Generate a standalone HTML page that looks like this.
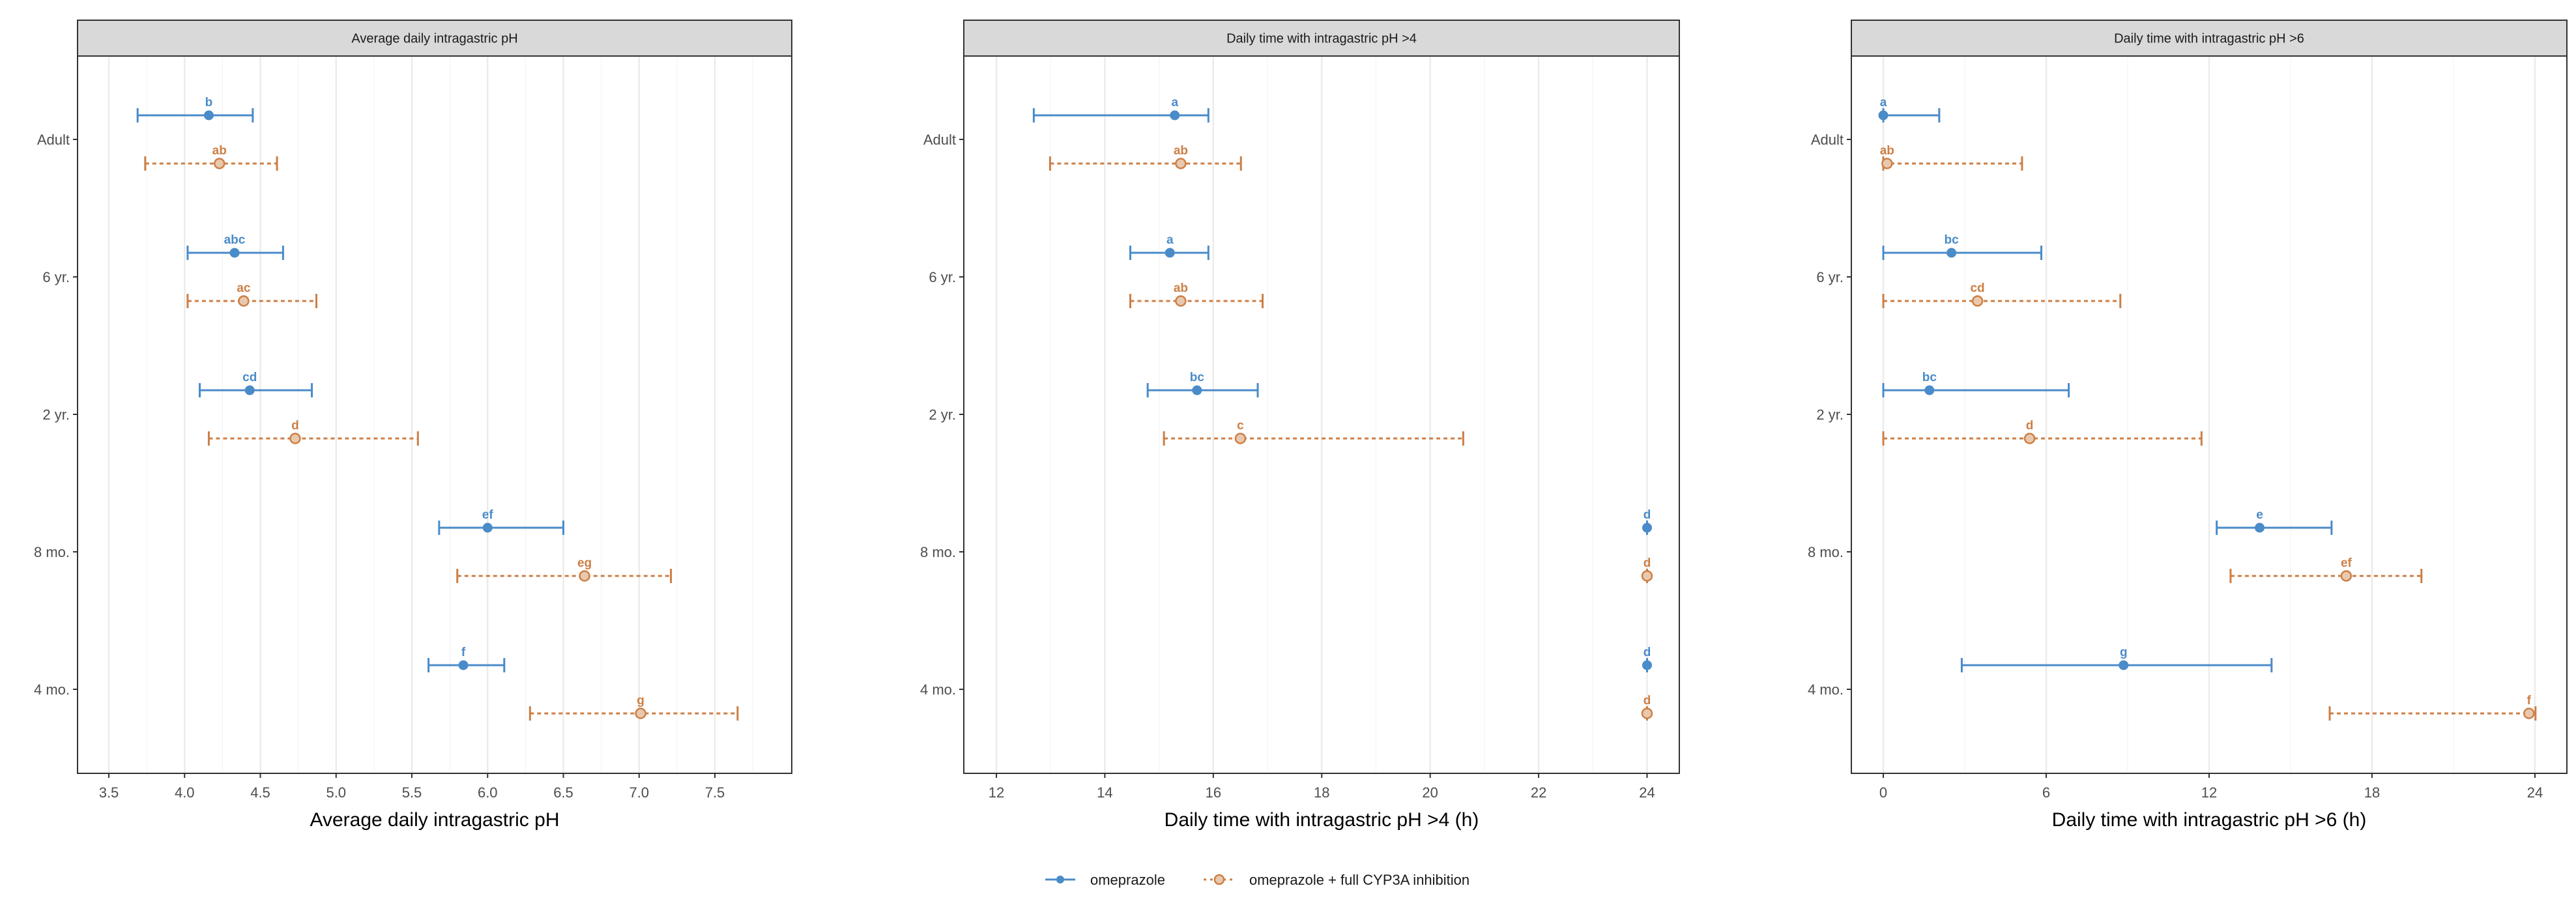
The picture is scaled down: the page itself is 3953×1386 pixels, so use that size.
<!DOCTYPE html>
<html><head><meta charset="utf-8">
<style>
html,body{margin:0;padding:0;background:#fff;}
svg{display:block;font-family:"Liberation Sans",Arial,sans-serif;}
</style></head>
<body>
<svg id="chart" width="3953" height="1386" viewBox="0 0 3953 1386" xmlns="http://www.w3.org/2000/svg">
<rect x="0" y="0" width="3953" height="1386" fill="#fff"/>
<g>
  <g>
    <line x1="1604" y1="1350" x2="1650" y2="1350" stroke="#4a8bc9" stroke-width="3"/>
    <circle cx="1627" cy="1350" r="6" fill="#4a8bc9"/>
    <text x="1673" y="1358" font-size="22" fill="#1a1a1a">omeprazole</text>
  </g>
  <g>
    <line x1="1847" y1="1350" x2="1895" y2="1350" stroke="#cc7f45" stroke-width="3" stroke-dasharray="4,6"/>
    <circle cx="1871" cy="1350" r="7" fill="#e9c9ae" stroke="#cc7f45" stroke-width="2.5"/>
    <text x="1917" y="1358" font-size="22" fill="#1a1a1a">omeprazole + full CYP3A inhibition</text>
  </g>
</g>
</svg>
<script>
const categories = ["Adult","6 yr.","2 yr.","8 mo.","4 mo."];
// panel 1: Average daily intragastric pH
const p1BlueMean = [4.16,4.33,4.43,6.00,5.84];
const p1BlueLo   = [3.69,4.02,4.10,5.68,5.61];
const p1BlueHi   = [4.45,4.65,4.84,6.50,6.11];
const p1BlueLab  = ["b","abc","cd","ef","f"];
const p1OrMean = [4.23,4.39,4.73,6.64,7.01];
const p1OrLo   = [3.74,4.02,4.16,5.80,6.28];
const p1OrHi   = [4.61,4.87,5.54,7.21,7.65];
const p1OrLab  = ["ab","ac","d","eg","g"];
const p1Ticks = [3.5,4.0,4.5,5.0,5.5,6.0,6.5,7.0,7.5];
// panel 2: Daily time with pH > 4
const p2BlueMean = [15.29,15.20,15.70,24,24];
const p2BlueLo   = [12.69,14.47,14.79,24,24];
const p2BlueHi   = [15.91,15.91,16.82,24,24];
const p2BlueLab  = ["a","a","bc","d","d"];
const p2OrMean = [15.40,15.40,16.50,24,24];
const p2OrLo   = [12.99,14.47,15.09,24,24];
const p2OrHi   = [16.51,16.91,20.61,24,24];
const p2OrLab  = ["ab","ab","c","d","d"];
const p2Ticks = [12,14,16,18,20,22,24];
// panel 3: Daily time with pH > 6
const p3BlueMean = [0,2.51,1.70,13.86,8.85];
const p3BlueLo   = [0,0,0,12.28,2.89];
const p3BlueHi   = [2.06,5.82,6.83,16.51,14.30];
const p3BlueLab  = ["a","bc","bc","e","g"];
const p3OrMean = [0.14,3.47,5.39,17.05,23.78];
const p3OrLo   = [0,0,0,12.79,16.44];
const p3OrHi   = [5.11,8.73,11.72,19.82,24.02];
const p3OrLab  = ["ab","cd","d","ef","f"];
const p3Ticks = [0,6,12,18,24];

const NS="http://www.w3.org/2000/svg";
const svgEl=document.getElementById('chart');
const BLUE="#4a8bc9", ORANGE="#cc7f45";
function mk(tag,attrs,parent){const e=document.createElementNS(NS,tag);for(const k in attrs)e.setAttribute(k,attrs[k]);(parent||svgEl).appendChild(e);return e;}

const panels=[
 {title:"Average daily intragastric pH",axis:"Average daily intragastric pH",left:119,right:1215,v0:3.5,px0:167,v1:7.5,px1:1097,ticks:p1Ticks,minorStep:0.25,dec:1,
  bm:p1BlueMean,bl:p1BlueLo,bh:p1BlueHi,blab:p1BlueLab,om:p1OrMean,ol:p1OrLo,oh:p1OrHi,olab:p1OrLab,key:"ph"},
 {title:"Daily time with intragastric pH >4",axis:"Daily time with intragastric pH >4 (h)",left:1479,right:2577,v0:12,px0:1529,v1:24,px1:2527.5,ticks:p2Ticks,minorStep:1,dec:0,
  bm:p2BlueMean,bl:p2BlueLo,bh:p2BlueHi,blab:p2BlueLab,om:p2OrMean,ol:p2OrLo,oh:p2OrHi,olab:p2OrLab,key:"ph4"},
 {title:"Daily time with intragastric pH >6",axis:"Daily time with intragastric pH >6 (h)",left:2841,right:3939,v0:0,px0:2890,v1:24,px1:3890,ticks:p3Ticks,minorStep:3,dec:0,
  bm:p3BlueMean,bl:p3BlueLo,bh:p3BlueHi,blab:p3BlueLab,om:p3OrMean,ol:p3OrLo,oh:p3OrHi,olab:p3OrLab,key:"ph6"}
];
const stripTop=31, panelTop=86, panelBottom=1187;
const catY0=214, catStep=211, off=37;
function yScale(i){return catY0+i*catStep;}

panels.forEach(p=>{
  const g=mk('g',{});
  
  
  const xs=v=>p.px0+(v-p.v0)*(p.px1-p.px0)/(p.v1-p.v0);
  const vmin=p.v0+(p.left-p.px0)*(p.v1-p.v0)/(p.px1-p.px0);
  const vmax=p.v0+(p.right-p.px0)*(p.v1-p.v0)/(p.px1-p.px0);
  const s=mk('rect',{x:p.left,y:stripTop,width:p.right-p.left,height:panelTop-stripTop,fill:"#d9d9d9",stroke:"#333","stroke-width":2},g);
  
  
  const st=mk('text',{x:(p.left+p.right)/2,y:(stripTop+panelTop)/2+7,"text-anchor":"middle","font-size":20,fill:"#1a1a1a"},g);
  st.textContent=p.title;
  
  
  let start=Math.ceil(vmin/p.minorStep)*p.minorStep;
  for(let v=start;v<=vmax+1e-9;v+=p.minorStep){
    const major=p.ticks.some(t=>Math.abs(t-v)<1e-6);
    const gl=mk('line',{x1:xs(v),x2:xs(v),y1:panelTop,y2:panelBottom,stroke:major?"#ebebeb":"#f4f4f4","stroke-width":major?2.4:1.2},g);
    
    
  }
  const b=mk('rect',{x:p.left,y:panelTop,width:p.right-p.left,height:panelBottom-panelTop,fill:"none",stroke:"#333","stroke-width":2},g);
  
  
  p.ticks.forEach(t=>{
    const x=xs(t);
    const tk=mk('line',{x1:x,x2:x,y1:panelBottom,y2:panelBottom+7,stroke:"#333","stroke-width":2},g);
    
    
    const tl=mk('text',{x:x,y:panelBottom+37,"text-anchor":"middle","font-size":22,fill:"#4d4d4d"},g);
    tl.textContent=t.toFixed(p.dec);
    
    
  });
  const at=mk('text',{x:(p.left+p.right)/2,y:1268,"text-anchor":"middle","font-size":30,fill:"#000"},g);
  at.textContent=p.axis;
  
  
  categories.forEach((c,i)=>{
    const y=yScale(i);
    const tk=mk('line',{x1:p.left-7,x2:p.left,y1:y,y2:y,stroke:"#333","stroke-width":2},g);
    
    
    const tl=mk('text',{x:p.left-12,y:y+8,"text-anchor":"end","font-size":22,fill:"#4d4d4d"},g);
    tl.textContent=c;
    
    
  });
  function series(mean,lo,hi,lab,color,dy,dashed,name){
    categories.forEach((c,i)=>{
      const y=yScale(i)+dy;
      const sg=mk('g',{},g);
      
      
      const x1=xs(lo[i]),x2=xs(hi[i]),xm=xs(mean[i]);
      const ln=mk('line',{x1:x1,x2:x2,y1:y,y2:y,stroke:color,"stroke-width":3},sg);
      if(dashed) ln.setAttribute('stroke-dasharray','6,5');
      
      
      [x1,x2].forEach(xx=>{
        const cap=mk('line',{x1:xx,x2:xx,y1:y-11,y2:y+11,stroke:color,"stroke-width":3},sg);
        
        
      });
      const pt=dashed?mk('circle',{cx:xm,cy:y,r:7.5,fill:"#e9c9ae",stroke:color,"stroke-width":2.5},sg)
                     :mk('circle',{cx:xm,cy:y,r:7.5,fill:color},sg);
      
      
      const lt=mk('text',{x:xm,y:y-14,"text-anchor":"middle","font-size":19,"font-weight":"bold",fill:color},sg);
      lt.textContent=lab[i];
      
      
    });
  }
  series(p.bm,p.bl,p.bh,p.blab,BLUE,-off,false,'omeprazole-'+p.key);
  series(p.om,p.ol,p.oh,p.olab,ORANGE,off,true,'cyp3a-'+p.key);
});
</script>
</body></html>
